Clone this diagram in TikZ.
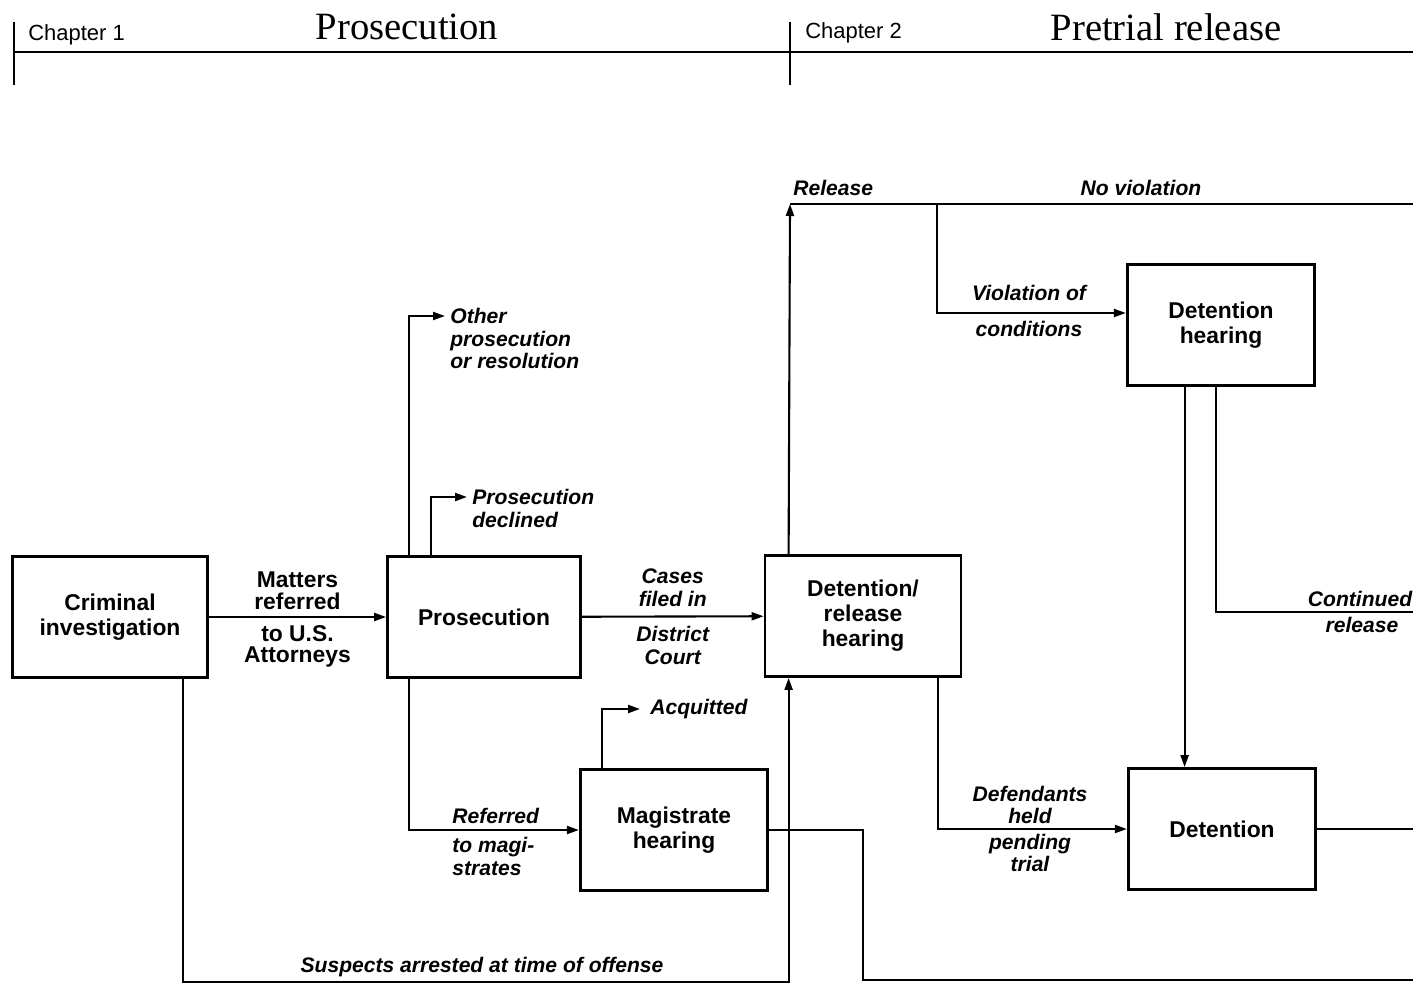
\documentclass[tikz,border=0pt]{standalone}
\usepackage{fontspec}
\setmainfont{Liberation Serif}
\setsansfont{Liberation Sans}
\usetikzlibrary{arrows.meta, positioning, calc}

\begin{document}
\begin{tikzpicture}[x=0.02cm, y=-0.02cm]
            \tikzstyle{block} = [rectangle, draw, line width=1.6pt, minimum width=3.75cm, minimum height=2.42cm, align=center, font=\sffamily\bfseries\fontsize{13}{14.2}\selectfont]
            \tikzstyle{wire} = [line width=1.2pt]
            \tikzstyle{arrow} = [wire, -{Triangle[length=2.4mm,width=1.6mm]}]
            \tikzstyle{lbl} = [font=\sffamily\bfseries\itshape\fontsize{12}{12.8}\selectfont, align=center, inner sep=0pt]
            \tikzstyle{chap} = [font=\sffamily\fontsize{12.5}{14}\selectfont, anchor=west, inner sep=0pt]
            \tikzstyle{title} = [font=\rmfamily\fontsize{22}{24}\selectfont, inner sep=0pt]

            \useasboundingbox (0,0) rectangle (1413,983);
            \clip (0,0) rectangle (1413,983);

            % chapter header
            \draw[line width=1.6pt] (14,22) -- (14,85);
            \draw[line width=1.6pt] (790,22) -- (790,85);
            \draw[line width=1.6pt] (14,52) -- (1413,52);
            \node[chap] (ch1) at (28,35) {Chapter 1};
            \node[title] (t1) at (407,27) {Prosecution};
            \node[chap] (ch2) at (805,33) {Chapter 2};
            \node[title] (t2) at (1166,27) {Pretrial release};

            % boxes
            \node[block, minimum width=3.9cm] (ci) at (110,617) {Criminal\\investigation};
            \node[block, minimum width=3.86cm] (pros) at (484,617) {Prosecution};
            \node[block, minimum width=3.92cm] (drh) at (863,616) {Detention/\\release\\hearing};
            \node[block] (mag) at (674,830) {Magistrate\\hearing};
            \node[block] (dh) at (1221,325) {Detention\\hearing};
            \node[block] (det) at (1222,829) {Detention};

            % free ends
            \coordinate (otherend) at (445,316);
            \coordinate (declend) at (467,497);
            \coordinate (acqend) at (640,709);
            \coordinate (rel) at (790,204);
            \coordinate (relend) at (1413,204);
            \coordinate (split) at (937,204);
            \coordinate (contend) at (1413,612);
            \coordinate (magout) at (1413,980);
            \coordinate (detout) at (1413,829);

            % prosecution
            \draw[arrow] (ci) -- node[above=0.12cm, lbl, font=\sffamily\bfseries\fontsize{13}{12.4}\selectfont] {Matters\\referred}
                                 node[below=0.14cm, lbl, font=\sffamily\bfseries\fontsize{13}{12.4}\selectfont] {to U.S.\\Attorneys} (pros);
            \draw[arrow] (pros) -- node[above=0.18cm, lbl] {Cases\\filed in}
                                   node[below=0.18cm, lbl] {District\\Court} (drh);
            \draw[arrow] ([xshift=0.45cm]pros.north west) |- (otherend);
            \node[lbl, anchor=north west, align=left] (other) at (450,308) {Other\\prosecution\\or resolution};
            \draw[arrow] ([xshift=0.89cm]pros.north west) |- (declend);
            \node[lbl, anchor=north west, align=left] (decl) at (472,489) {Prosecution\\declined};
            \draw[arrow] ([xshift=0.45cm]pros.south west) |- (mag.west);
            \node[lbl, anchor=south west] (ref1) at (452,824) {Referred};
            \node[lbl, anchor=north west, align=left] (ref2) at (452,837) {to magi-\\strates};
            \draw[arrow] ([xshift=0.455cm]mag.north west) |- (acqend);
            \node[lbl, anchor=west] (acq) at (650,709) {Acquitted};
            \draw[wire] (mag.east) -- (mag.east -| drh.center) |- (magout);
            \draw[arrow] ([xshift=3.43cm]ci.south west) -- ++(0,303) -| ([xshift=0.5cm]drh.south west);
            \node[lbl] (susp) at (482,967) {Suspects arrested at time of offense};

            % pretrial release
            \draw[arrow] ([xshift=0.5cm]drh.north west) -- (rel);
            \draw[wire] (rel) -- (relend);
            \node[lbl, anchor=west] (rell) at (793,188) {Release};
            \node[lbl] (nov) at (1141,188) {No violation};
            \draw[arrow] (split) |- ([yshift=0.24cm]dh.west);
            \node[lbl] (viol1) at (1029,293) {Violation of};
            \node[lbl] (viol2) at (1029,329) {conditions};
            \draw[arrow] ([xshift=1.175cm]dh.south west) -- ([xshift=1.175cm]dh.south west |- det.north);
            \draw[wire] ([xshift=1.8cm]dh.south west) |- (contend);
            \node[lbl] (cont1) at (1360,599) {Continued};
            \node[lbl] (cont2) at (1362,625) {release};
            \draw[arrow] ([xshift=3.48cm]drh.south west) |- (det.west);
            \node[lbl] (held) at (1030,805) {Defendants\\held};
            \node[lbl] (pend) at (1030,853) {pending\\trial};
            \draw[wire] (det.east) -- (detout);
        \end{tikzpicture}
\end{document}
